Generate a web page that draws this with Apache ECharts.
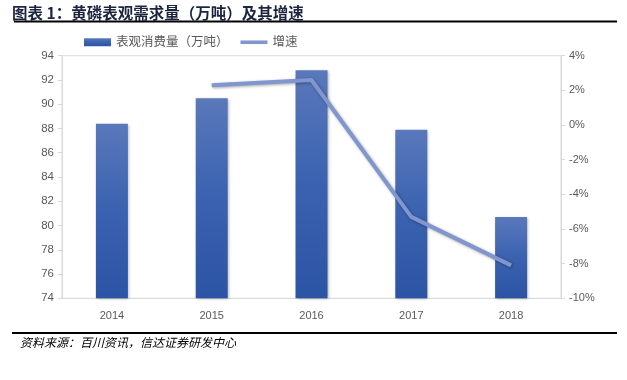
<!DOCTYPE html>
<html>
<head>
<meta charset="utf-8">
<script src="https://cdn.jsdelivr.net/npm/echarts@6/dist/echarts.min.js"></script>
<style>
html,body{margin:0;padding:0;background:#fff;}
#chart{width:627px;height:380px;}
</style>
</head>
<body>
<div id="chart"></div>
<script>
const categories = ['2014', '2015', '2016', '2017', '2018'];
const consumption = [88.4, 90.5, 92.8, 87.9, 80.7];
const growth = [null, 2.3, 2.6, -5.3, -8.1];
const leftTicks = [74, 94, 2];
const rightTicks = [-10, 4, 2];
const titleText = '图表 1：黄磷表观需求量（万吨）及其增速';
const sourceText = '资料来源：百川资讯，信达证券研发中心';
const seriesNames = ['表观消费量（万吨）', '增速'];

const chart = echarts.init(document.getElementById('chart'), null, {renderer: 'canvas'});
const font = '"Liberation Sans", "Noto Sans CJK SC", sans-serif';
chart.setOption({
  animation: false,
  backgroundColor: '#fff',
  title: {
    text: titleText, left: 7, top: 0,
    textStyle: {fontFamily: '"Noto Sans CJK SC"', fontWeight: 'bold', fontSize: 15.5, color: '#1c2540'}
  },
  legend: {
    left: 79, top: 31, itemGap: 12, itemWidth: 27, itemHeight: 8,
    textStyle: {fontFamily: font, fontSize: 12.5, color: '#595959'},
    data: [{name: seriesNames[0], icon: 'rect'}, {name: seriesNames[1], icon: 'path://M0,0 L30,0 L30,4 L0,4 Z'}]
  },
  grid: {left: 62, right: 66, top: 55.7, bottom: 81.7, show: true, borderColor: '#d9d9d9', borderWidth: 1},
  xAxis: {
    type: 'category', data: categories,
    axisLine: {onZero: false, lineStyle: {color: '#d9d9d9', width: 1}},
    axisTick: {show: false},
    axisLabel: {fontFamily: font, fontSize: 11, color: '#595959', margin: 12}
  },
  yAxis: [
    {type: 'value', min: leftTicks[0], max: leftTicks[1], interval: leftTicks[2],
     axisLine: {show: true, lineStyle: {color: '#d9d9d9'}},
     axisTick: {show: true, length: 4, lineStyle: {color: '#d9d9d9'}},
     splitLine: {show: false},
     axisLabel: {fontFamily: font, fontSize: 11.5, color: '#595959', margin: 8}},
    {type: 'value', min: rightTicks[0], max: rightTicks[1], interval: rightTicks[2], position: 'right',
     axisLine: {show: true, lineStyle: {color: '#d9d9d9'}},
     axisTick: {show: true, length: 4, lineStyle: {color: '#d9d9d9'}},
     splitLine: {show: false},
     axisLabel: {fontFamily: font, fontSize: 11, color: '#595959', margin: 8, formatter: '{value}%'}}
  ],
  series: [
    {name: seriesNames[0], type: 'bar', data: consumption, yAxisIndex: 0, barWidth: 32,
     itemStyle: {
       color: new echarts.graphic.LinearGradient(0, 0, 0, 1, [
         {offset: 0, color: '#5a78bb'}, {offset: 0.5, color: '#3a62b0'}, {offset: 1, color: '#2c54a4'}]),
       shadowBlur: 3, shadowColor: 'rgba(0,0,0,0.35)', shadowOffsetX: 1, shadowOffsetY: 1
     }},
    {name: seriesNames[1], type: 'line', data: growth, yAxisIndex: 1, symbol: 'none',
     lineStyle: {color: '#8096cf', width: 4, shadowBlur: 3, shadowColor: 'rgba(0,0,0,0.35)', shadowOffsetX: 1, shadowOffsetY: 1},
     itemStyle: {color: '#8096cf'}}
  ],
  graphic: [
    {type: 'line', shape: {x1: 14, y1: 21.5, x2: 617, y2: 21.5}, style: {stroke: '#000', lineWidth: 2}},
    {type: 'line', shape: {x1: 12, y1: 333, x2: 617, y2: 333}, style: {stroke: '#000', lineWidth: 2}},
    {type: 'text', left: 20, top: 336,
     style: {text: sourceText, fontFamily: '"Noto Sans CJK SC"', fontStyle: 'italic', fontSize: 12, fill: '#000'}}
  ]
});
</script>
</body>
</html>
